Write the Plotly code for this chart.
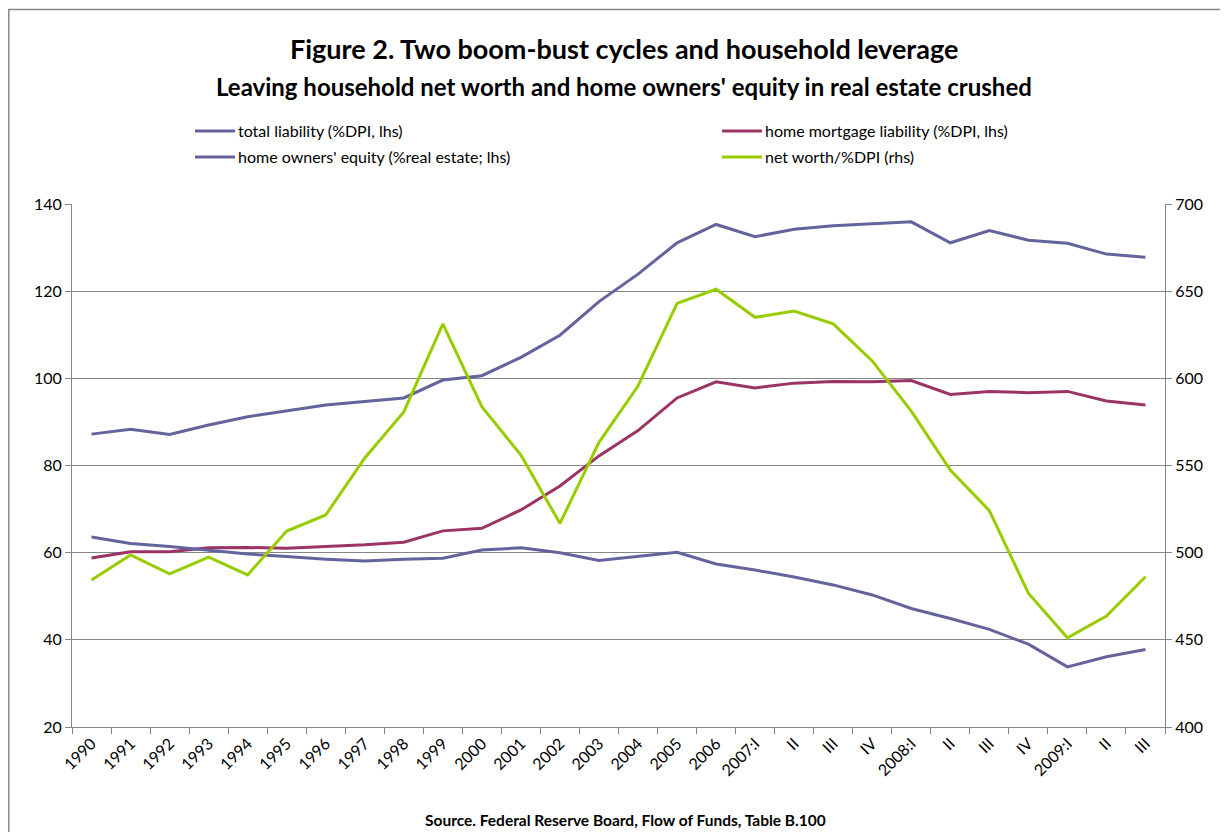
import plotly.graph_objects as go

categories = ["1990", "1991", "1992", "1993", "1994", "1995", "1996", "1997", "1998", "1999",
              "2000", "2001", "2002", "2003", "2004", "2005", "2006",
              "2007:I", "II ", "III ", "IV ", "2008:I", "II  ", "III  ", "IV  ", "2009:I", "II   ", "III   "]
tick_text = ["1990", "1991", "1992", "1993", "1994", "1995", "1996", "1997", "1998", "1999",
             "2000", "2001", "2002", "2003", "2004", "2005", "2006",
             "2007:I", "II", "III", "IV", "2008:I", "II", "III", "IV", "2009:I", "II", "III"]

total_liability = [87.2, 88.3, 87.1, 89.3, 91.2, 92.6, 93.9, 94.7, 95.5, 99.6,
                   100.6, 104.8, 109.9, 117.6, 123.9, 131.1, 135.3,
                   132.5, 134.2, 135.0, 135.4, 135.9, 131.1, 133.9, 131.7, 131.0, 128.5, 127.8]
home_mortgage = [58.8, 60.2, 60.2, 61.1, 61.2, 61.0, 61.4, 61.8, 62.4, 65.0,
                 65.6, 69.8, 75.3, 82.2, 88.0, 95.5, 99.2,
                 97.8, 98.9, 99.3, 99.2, 99.5, 96.3, 97.0, 96.7, 97.0, 94.8, 93.9]
owners_equity = [63.6, 62.1, 61.4, 60.6, 59.7, 59.1, 58.5, 58.1, 58.5, 58.7,
                 60.6, 61.1, 60.0, 58.2, 59.1, 60.1, 57.4,
                 56.0, 54.4, 52.6, 50.3, 47.2, 44.9, 42.4, 39.0, 33.8, 36.1, 37.8]
net_worth = [484.3, 498.7, 487.8, 497.5, 487.2, 512.4, 521.6, 554.3, 580.7, 631.2,
             583.7, 556.0, 516.8, 563.3, 595.6, 643.0, 651.1,
             635.0, 638.6, 631.2, 610.0, 581.2, 547.4, 524.1, 476.7, 451.2, 463.7, 486.2]

series_names = ["total liability (%DPI, lhs)", "home mortgage liability (%DPI, lhs)",
                "home owners' equity (%real estate; lhs)", "net worth/%DPI (rhs)"]

FONT = "Lato"
BLUE = "#63639E"
MAROON = "#9B3465"
GREEN = "#99CC00"
colors = [BLUE, MAROON, BLUE, GREEN]

# page has an 8px body margin: figure coordinates = screen coordinates - 8
OFF = 8
W, H = 1228 - 2 * OFF, 840 - 2 * OFF
PL, PR, PT, PB = 72 - OFF, 1165 - OFF, 204 - OFF, 727 - OFF
PW, PH = PR - PL, PB - PT


def px(x):
    return (x - OFF - PL) / PW


def py(y):
    return 1 + (PT - (y - OFF)) / PH


fig = go.Figure()
fig.add_trace(go.Scatter(x=categories, y=total_liability, mode="lines", name=series_names[0],
                         line=dict(color=colors[0], width=3)))
fig.add_trace(go.Scatter(x=categories, y=home_mortgage, mode="lines", name=series_names[1],
                         line=dict(color=colors[1], width=3)))
fig.add_trace(go.Scatter(x=categories, y=owners_equity, mode="lines", name=series_names[2],
                         line=dict(color=colors[2], width=3)))
fig.add_trace(go.Scatter(x=categories, y=net_worth, mode="lines", name=series_names[3],
                         line=dict(color=colors[3], width=3), yaxis="y2"))

fig.update_layout(
    width=W, height=H,
    margin=dict(l=PL, r=W - PR, t=PT, b=H - PB, autoexpand=False),
    paper_bgcolor="white", plot_bgcolor="white",
    font=dict(family=FONT, size=16, color="black"),
    showlegend=False,
    xaxis=dict(type="category", range=[-0.5, 27.5], tickmode="array", tickvals=categories,
               ticktext=tick_text, tickangle=-45, ticks="outside", tickson="boundaries",
               ticklen=6, tickcolor="#868686", showline=True, linecolor="#868686", linewidth=1,
               showgrid=False, zeroline=False, tickfont=dict(size=16)),
    yaxis=dict(range=[20, 140], dtick=20, tick0=20, ticks="outside", ticklen=6, tickcolor="#868686",
               showline=True, linecolor="#868686", linewidth=1, showgrid=True,
               gridcolor="#868686", gridwidth=1, zeroline=False, tickfont=dict(size=16)),
    yaxis2=dict(range=[400, 700], dtick=50, tick0=400, overlaying="y", side="right",
                ticks="outside", ticklen=6, tickcolor="#868686", showline=True,
                linecolor="#868686", linewidth=1, showgrid=False, zeroline=False,
                tickfont=dict(size=16)),
)

# manual legend (two columns)
legend_pos = [(195, 131), (722, 131), (195, 157), (722, 157)]
for name, col, (lx, ly) in zip(series_names, colors, legend_pos):
    fig.add_shape(type="line", xref="paper", yref="paper",
                  x0=px(lx), x1=px(lx + 40), y0=py(ly), y1=py(ly),
                  line=dict(color=col, width=3))
    fig.add_annotation(text=name, xref="paper", yref="paper", x=px(lx + 41), y=py(ly),
                       xanchor="left", yanchor="middle", showarrow=False,
                       font=dict(family=FONT, size=16, color="black"))

fig.add_annotation(text="<b>Figure 2. Two boom-bust cycles and household leverage</b>",
                   xref="paper", yref="paper", x=px(624), y=py(48),
                   xanchor="center", yanchor="middle", showarrow=False,
                   font=dict(family=FONT, size=27, color="black"))
fig.add_annotation(text="<b>Leaving household net worth and home owners' equity in real estate crushed</b>",
                   xref="paper", yref="paper", x=px(624), y=py(86),
                   xanchor="center", yanchor="middle", showarrow=False,
                   font=dict(family=FONT, size=24, color="black"))
fig.add_annotation(text="<b>Source. Federal Reserve Board, Flow of Funds, Table B.100</b>",
                   xref="paper", yref="paper", x=px(625), y=py(820),
                   xanchor="center", yanchor="middle", showarrow=False,
                   font=dict(family=FONT, size=15.5, color="black"))

fig.add_shape(type="rect", xref="paper", yref="paper",
              x0=px(8.8), x1=px(1260), y0=py(880), y1=py(9.5),
              line=dict(color="#868686", width=1.5), fillcolor="rgba(0,0,0,0)", layer="below")

fig.write_html("out.html")
